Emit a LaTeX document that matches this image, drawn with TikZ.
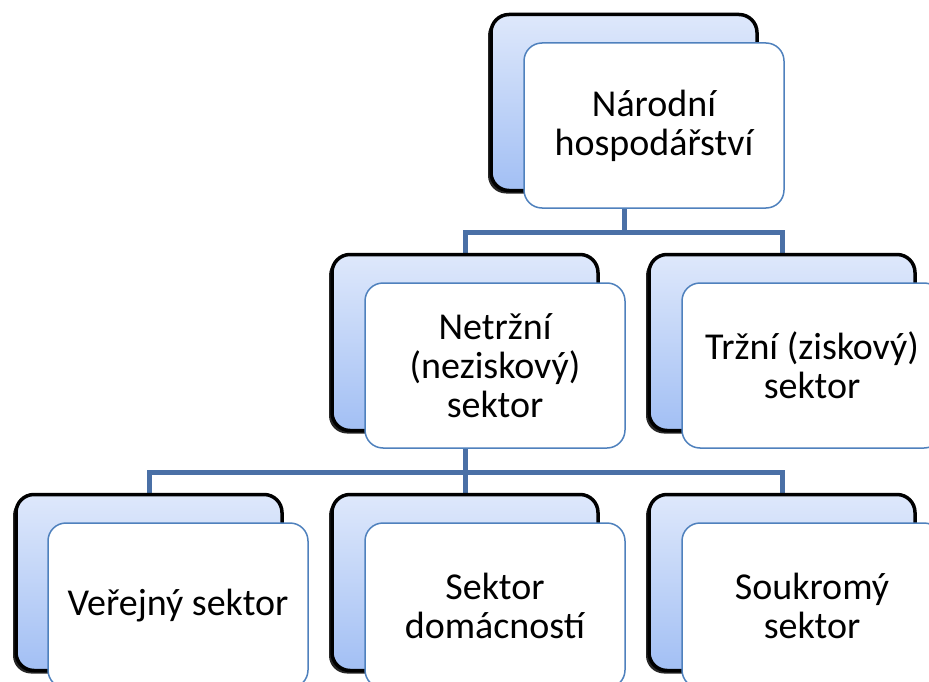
\documentclass[tikz,border=0pt]{standalone}
\usepackage{fontspec}
\setmainfont{Carlito}
\usetikzlibrary{shadows}

\definecolor{backtop}{HTML}{DEE8FB}
\definecolor{backbot}{HTML}{A2BFF4}
\definecolor{frontline}{HTML}{4F81BD}
\definecolor{linkblue}{HTML}{4A70A6}

\begin{document}
\begin{tikzpicture}[x=1pt,y=-1pt,
    back/.style={draw=black,line width=3.5pt,rounded corners=18pt,
        top color=backtop,bottom color=backbot,
        minimum width=266pt,minimum height=176pt,
        drop shadow={shadow xshift=-3pt,shadow yshift=-3pt,fill=black,opacity=0.85}},
    front/.style={draw=frontline,line width=1.5pt,fill=white,rounded corners=18pt,
        minimum width=260pt,minimum height=165pt,align=center,
        font=\fontsize{38}{39}\selectfont},
    link/.style={draw=linkblue,line width=5pt}]
\useasboundingbox (0,0) rectangle (929,682);

\coordinate (nar-b) at (624, 102.5);
\coordinate (net-b) at (465, 342.5);
\coordinate (trz-b) at (782, 342.5);
\coordinate (ver-b) at (149, 582.5);
\coordinate (dom-b) at (465, 582.5);
\coordinate (sou-b) at (782, 582.5);

% connectors first, boxes on top
\draw [link] (nar-b) -- ++(0,130) -| (trz-b);
\draw [link] (nar-b) -- ++(0,130) -| (net-b);
\draw [link] (net-b) -- ++(0,130) -| (ver-b);
\draw [link] (net-b) -- ++(0,130) -| (dom-b);
\draw [link] (net-b) -- ++(0,130) -| (sou-b);

\node [back] (narodni-b)  at (nar-b) {};
\node [back] (netrzni-b)  at (net-b) {};
\node [back] (trzni-b)    at (trz-b) {};
\node [back] (verejny-b)  at (ver-b) {};
\node [back] (domacn-b)   at (dom-b) {};
\node [back] (soukromy-b) at (sou-b) {};

\node [front] (narodni)  at (654, 125.5) {Národní\\ hospodářství};
\node [front] (netrzni)  at (495, 365.5) {Netržní\\ (neziskový)\\ sektor};
\node [front] (trzni)    at (812, 365.5) {Tržní (ziskový)\\ sektor};
\node [front] (verejny)  at (178, 605.5) {Veřejný sektor};
\node [front] (domacn)   at (495, 605.5) {Sektor\\ domácností};
\node [front] (soukromy) at (812, 605.5) {Soukromý\\ sektor};
\end{tikzpicture}
\end{document}
